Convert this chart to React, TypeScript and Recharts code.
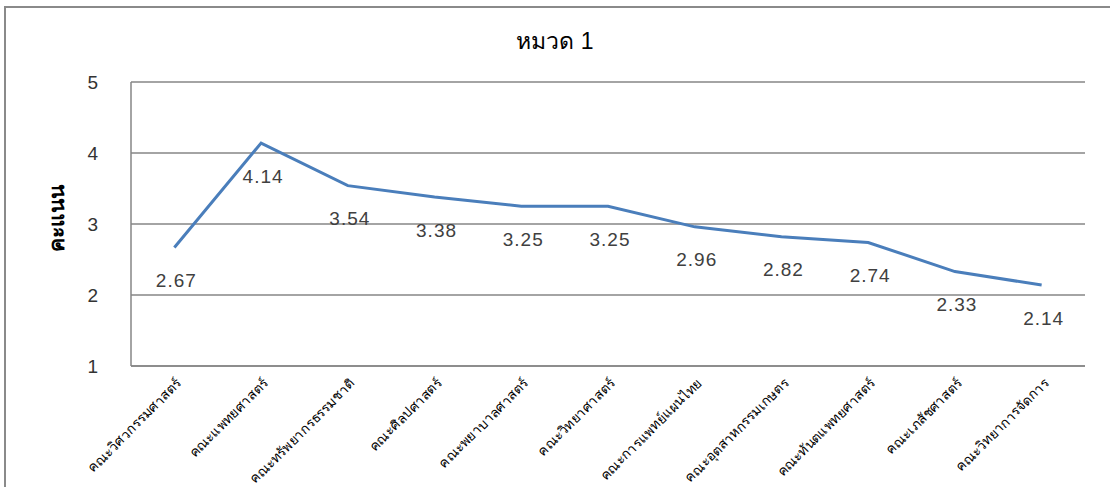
import React from "react";
import { LineChart, Line, XAxis, YAxis, CartesianGrid } from "recharts";

const faculties = [
  "คณะวิศวกรรมศาสตร์",
  "คณะแพทยศาสตร์",
  "คณะทรัพยากรธรรมชาติ",
  "คณะศิลปศาสตร์",
  "คณะพยาบาลศาสตร์",
  "คณะวิทยาศาสตร์",
  "คณะการแพทย์แผนไทย",
  "คณะอุตสาหกรรมเกษตร",
  "คณะทันตแพทยศาสตร์",
  "คณะเภสัชศาสตร์",
  "คณะวิทยาการจัดการ",
];
const scores = [2.67, 4.14, 3.54, 3.38, 3.25, 3.25, 2.96, 2.82, 2.74, 2.33, 2.14];
const yTicks = [1, 2, 3, 4, 5];
const title = "หมวด 1";
const yLabel = "คะแนน";

const data = faculties.map((name, i) => ({ name, score: scores[i] }));

const XTick = (props: any) => {
  const { x, y, payload } = props;
  const ax = x + 8;
  const ay = y + 10;
  return (
    <text
      x={ax}
      y={ay}
      transform={`rotate(-45, ${ax}, ${ay})`}
      textAnchor="end"
      fontSize={13.5}
      fill="#000"
      fontFamily="'Noto Sans', Tahoma, sans-serif"
    >
      {payload.value}
    </text>
  );
};

const ValueLabel = (props: any) => {
  const { x, y, value } = props;
  return (
    <text
      x={x + 2}
      y={y + 33}
      textAnchor="middle"
      dominantBaseline="central"
      fontSize={19}
      letterSpacing={1}
      fill="#404040"
      fontFamily="'Liberation Sans', Arial, sans-serif"
    >
      {Number(value).toFixed(2)}
    </text>
  );
};

export default function App() {
  return (
    <div
      style={{
        position: "absolute",
        left: 0,
        top: 0,
        width: 1110,
        height: 487,
        overflow: "hidden",
        background: "#fff",
      }}
    >
      <div
        style={{
          position: "absolute",
          left: 4,
          top: 6,
          width: 1200,
          height: 600,
          border: "2px solid #8a8a8a",
        }}
      />
      <div style={{ position: "absolute", left: 0, top: 0 }}>
        <LineChart
          width={1110}
          height={487}
          data={data}
          margin={{ top: 82, right: 25, bottom: 0, left: 0 }}
        >
          <text
            x={555}
            y={41}
            textAnchor="middle"
            dominantBaseline="central"
            fontSize={23}
            fill="#000"
            fontFamily="'Liberation Sans', Arial, sans-serif"
          >
            {title}
          </text>
          <text
            x={56}
            y={218}
            transform="rotate(-90, 56, 218)"
            textAnchor="middle"
            dominantBaseline="central"
            fontSize={21}
            fontWeight="bold"
            fill="#000"
            fontFamily="'Liberation Sans', Arial, sans-serif"
          >
            {yLabel}
          </text>
          <CartesianGrid vertical={false} stroke="#868686" strokeWidth={1.5} />
          <XAxis
            dataKey="name"
            scale="band"
            interval={0}
            height={121}
            tick={<XTick />}
            tickLine={false}
            axisLine={{ stroke: "#868686", strokeWidth: 1.5 }}
          />
          <YAxis
            domain={[1, 5]}
            ticks={yTicks}
            width={131}
            tickLine={false}
            tickSize={0}
            tickMargin={33}
            axisLine={{ stroke: "#868686", strokeWidth: 1.5 }}
            tick={{
              fontSize: 19,
              fill: "#333",
              fontFamily: "'Liberation Sans', Arial, sans-serif",
            }}
          />
          <Line
            type="linear"
            dataKey="score"
            stroke="#4A7EBB"
            strokeWidth={3}
            dot={false}
            isAnimationActive={false}
            label={<ValueLabel />}
          />
        </LineChart>
      </div>
    </div>
  );
}
